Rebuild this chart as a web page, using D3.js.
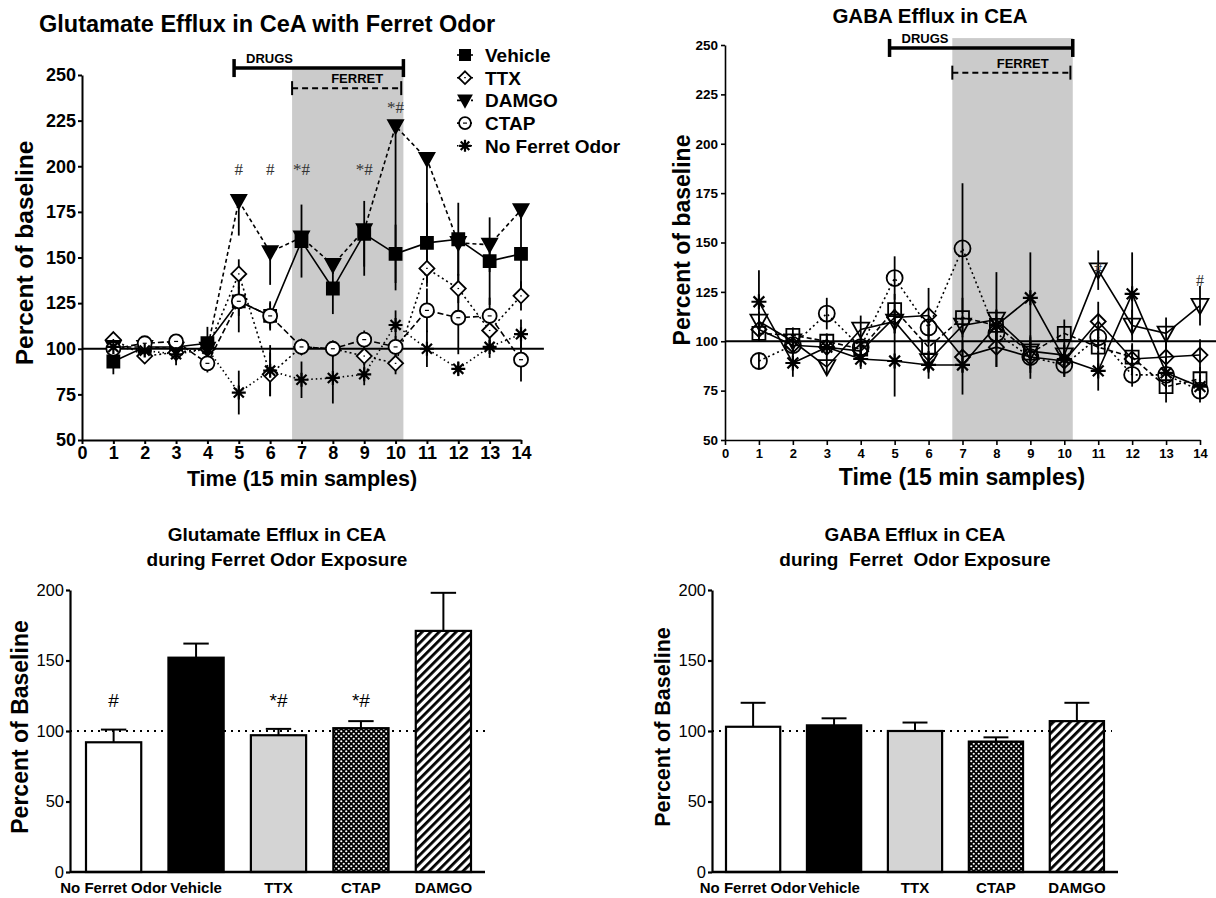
<!DOCTYPE html>
<html>
<head>
<meta charset="utf-8">
<script src="https://cdn.jsdelivr.net/npm/d3@7"></script>
<style>
body { margin: 0; background: #fff; }
svg { display: block; font-family: "Liberation Sans", Arial, sans-serif; }
</style>
</head>
<body>
<svg id="chart" width="1216" height="898"></svg>
<script>
"use strict";

var W = 1216, H = 898;

// ---- data ----
var timePoints = [1, 2, 3, 4, 5, 6, 7, 8, 9, 10, 11, 12, 13, 14];
var timeTicks = [0, 1, 2, 3, 4, 5, 6, 7, 8, 9, 10, 11, 12, 13, 14];
var pctTicks = [50, 75, 100, 125, 150, 175, 200, 225, 250];
var barTicks = [0, 50, 100, 150, 200];
var drugWindow = [4.85, 10.25];
var ferretWindow = [6.7, 10.25];

// glutamate time course
var gluVehicle = [93, 101, 101, 103, 126, 118, 159, 133, 163, 152, 158, 160, 148, 152];
var gluVehicleErr = [7, 3, 3, 9, 17, 7, 20, 14, 18, 16, 22, 20, 24, 20];
var gluTTX = [105, 96, 98, 100, 141, 86, 101, 100, 96, 92, 144, 133, 110, 129];
var gluTTXErr = [3, 4, 4, 4, 8, 12, 3, 3, 5, 6, 10, 8, 8, 8];
var gluDAMGO = [101, 101, 100, 100, 181, 153, 161, 146, 165, 222, 204, 158, 157, 176];
var gluDAMGOErr = [2, 2, 2, 2, 19, 18, 5, 5, 25, 90, 50, 25, 15, 5];
var gluCTAP = [100, 103, 104, 92, 126, 118, 101, 100, 105, 101, 121, 117, 118, 94];
var gluCTAPErr = [4, 3, 3, 5, 8, 8, 3, 3, 5, 6, 12, 20, 10, 12];
var gluNoOdor = [101, 99, 97, 100, 76, 88, 83, 84, 86, 113, 100, 89, 101, 108];
var gluNoOdorErr = [3, 3, 6, 3, 12, 14, 10, 14, 6, 8, 10, 4, 6, 8];
var gluSigTime = [5, 6, 7, 9, 10];
var gluSigLevel = [195, 195, 195, 195, 229];
var gluSigText = ["#", "#", "*#", "*#", "*#"];

// GABA time course
var gabaSquare = [104, 103, 100, 96, 116, 97, 112, 108, 94, 104, 97, 92, 77, 81];
var gabaSquareErr = [4, 4, 4, 4, 8, 10, 10, 8, 8, 7, 10, 6, 8, 6];
var gabaDiamond = [106, 98, 97, 95, 112, 113, 92, 97, 92, 90, 110, 91, 92, 93];
var gabaDiamondErr = [6, 5, 4, 4, 8, 14, 8, 10, 8, 8, 10, 8, 8, 8];
var gabaTriangle = [110, 100, 87, 106, 110, 90, 108, 111, 95, 93, 136, 108, 104, 118];
var gabaTriangleErr = [5, 4, 4, 7, 6, 5, 5, 24, 5, 5, 10, 8, 8, 10];
var gabaCircle = [90, 98, 114, 97, 132, 107, 147, 104, 92, 88, 102, 83, 83, 75];
var gabaCircleErr = [4, 4, 8, 5, 11, 5, 33, 8, 11, 6, 6, 6, 6, 6];
var gabaStar = [120, 89, 97, 91, 90, 88, 88, 108, 122, 91, 85, 124, 84, 77];
var gabaStarErr = [16, 7, 6, 5, 18, 7, 15, 8, 23, 8, 10, 21, 8, 6];
var gabaSigTime = [11, 14];
var gabaSigLevel = [134, 128];
var gabaSigText = ["#", "#"];

// ferret-exposure summary bars
var barGroups = ["No Ferret Odor", "Vehicle", "TTX", "CTAP", "DAMGO"];
var gluBar = [92, 152, 97, 102, 171];
var gluBarErr = [9, 10, 4.5, 5, 27];
var gluBarSig = ["#", "", "*#", "*#", ""];
var gabaBar = [103, 104, 100, 92.5, 107];
var gabaBarErr = [17, 5, 6, 3, 13];

var barFills = ["#fff", "#000", "#d4d4d4", "url(#checks)", "url(#stripes)"];

var svg = d3.select("#chart");

// ---- patterns ----
var defs = svg.append("defs");
var checks = defs.append("pattern")
  .attr("id", "checks")
  .attr("width", 5).attr("height", 5)
  .attr("patternUnits", "userSpaceOnUse");
checks.append("rect").attr("width", 5).attr("height", 5).attr("fill", "#000");
checks.append("circle").attr("cx", 1.25).attr("cy", 1.25).attr("r", 1.1).attr("fill", "#fff");
checks.append("circle").attr("cx", 3.75).attr("cy", 3.75).attr("r", 1.1).attr("fill", "#fff");
var stripes = defs.append("pattern")
  .attr("id", "stripes")
  .attr("width", 6).attr("height", 6)
  .attr("patternUnits", "userSpaceOnUse")
  .attr("patternTransform", "rotate(45)");
stripes.append("rect").attr("width", 6).attr("height", 6).attr("fill", "#fff");
stripes.append("rect").attr("width", 2.8).attr("height", 6).attr("fill", "#000");

// ---- helpers ----
function addText(g, str, x, y, size, weight, anchor) {
  return g.append("text")
    .attr("x", x).attr("y", y)
    .attr("font-size", size)
    .attr("font-weight", weight || "normal")
    .attr("text-anchor", anchor || "start")
    .style("white-space", "pre")
    .text(str);
}

function styleAxis(sel, size, weight, sw) {
  sel.attr("font-family", null).attr("font-size", size).attr("font-weight", weight);
  sel.selectAll("path, line").attr("stroke", "#000").attr("stroke-width", sw);
  sel.selectAll("text").attr("fill", "#000");
}

function markerPath(type, h) {
  var a = h * 0.72;
  if (type === "square") return "M" + (-h) + "," + (-h) + "H" + h + "V" + h + "H" + (-h) + "Z";
  if (type === "diamond") return "M0," + (-h) + "L" + h + ",0L0," + h + "L" + (-h) + ",0Z";
  if (type === "triangle") return "M" + (-h) + "," + (-h * 0.8) + "H" + h + "L0," + h + "Z";
  if (type === "circle") return d3.symbol(d3.symbolCircle, Math.PI * h * h)();
  return "M" + (-h) + ",0H" + h + "M0," + (-h) + "V" + h +
    "M" + (-a) + "," + (-a) + "L" + a + "," + a + "M" + (-a) + "," + a + "L" + a + "," + (-a);
}

function drawSeries(g, x, y, series, openFill) {
  var line = d3.line()
    .x(function(d, i) { return x(timePoints[i]); })
    .y(function(d) { return y(d); });
  series.forEach(function(s) {
    g.append("path")
      .attr("d", line(s.vals))
      .attr("fill", "none")
      .attr("stroke", "#000")
      .attr("stroke-width", 1.6)
      .attr("stroke-dasharray", s.dash);
  });
  series.forEach(function(s) {
    g.selectAll(null).data(s.vals).enter().append("line")
      .attr("x1", function(d, i) { return x(timePoints[i]); })
      .attr("x2", function(d, i) { return x(timePoints[i]); })
      .attr("y1", function(d, i) { return y(s.errDir === "down" ? d : d + s.errs[i]); })
      .attr("y2", function(d, i) { return y(d - s.errs[i]); })
      .attr("stroke", "#000")
      .attr("stroke-width", 1.8);
  });
  series.forEach(function(s) {
    var pts = g.selectAll(null).data(s.vals).enter().append("g")
      .attr("transform", function(d, i) { return "translate(" + x(timePoints[i]) + "," + y(d) + ")"; });
    pts.append("path")
      .attr("d", markerPath(s.marker, s.size))
      .attr("fill", s.filled ? "#000" : openFill)
      .attr("stroke", "#000")
      .attr("stroke-width", s.marker === "star" ? 2.2 : 1.8);
    if (s.inner) {
      pts.append("path").attr("d", s.inner).attr("stroke", "#000").attr("stroke-width", 1.2);
    }
  });
}

function drawWindows(g, x, y, top, drugLevel, ferretLevel) {
  g.append("rect")
    .attr("x", x(ferretWindow[0]))
    .attr("y", y(top))
    .attr("width", x(ferretWindow[1]) - x(ferretWindow[0]))
    .attr("height", y(50) - y(top))
    .attr("fill", "#cbcbcb");
  var dy = y(drugLevel);
  g.append("line")
    .attr("x1", x(drugWindow[0])).attr("x2", x(drugWindow[1]))
    .attr("y1", dy).attr("y2", dy)
    .attr("stroke", "#000").attr("stroke-width", 3.5);
  drugWindow.forEach(function(v) {
    g.append("line")
      .attr("x1", x(v)).attr("x2", x(v))
      .attr("y1", dy - 9).attr("y2", dy + 9)
      .attr("stroke", "#000").attr("stroke-width", 3.5);
  });
  addText(g, "DRUGS", x(drugWindow[0]) + 12, dy - 5, 13, "bold");
  var fy = y(ferretLevel);
  g.append("line")
    .attr("x1", x(ferretWindow[0])).attr("x2", x(ferretWindow[1]) - 2)
    .attr("y1", fy).attr("y2", fy)
    .attr("stroke", "#000").attr("stroke-width", 2)
    .attr("stroke-dasharray", "6,4");
  [ferretWindow[0], ferretWindow[1] - 0.07].forEach(function(v) {
    g.append("line")
      .attr("x1", x(v)).attr("x2", x(v))
      .attr("y1", fy - 7).attr("y2", fy + 7)
      .attr("stroke", "#000").attr("stroke-width", 2);
  });
  addText(g, "FERRET", x((ferretWindow[0] + ferretWindow[1]) / 2 + 0.3), fy - 5, 13, "bold", "middle");
}

// ---- panel A: glutamate time course ----
var gA = svg.append("g");
var xA = d3.scaleLinear().domain([0, 14]).range([82, 521]);
var yA = d3.scaleLinear().domain([50, 250]).range([440, 75]);

drawWindows(gA, xA, yA, 253.8, 253.8, 242.8);

gA.append("line")
  .attr("x1", xA(0)).attr("x2", xA(14.73))
  .attr("y1", yA(100)).attr("y2", yA(100))
  .attr("stroke", "#000").attr("stroke-width", 2);

var gluSeries = [
  { name: "Vehicle", vals: gluVehicle, errs: gluVehicleErr, marker: "square", size: 6, filled: true, dash: null },
  { name: "TTX", vals: gluTTX, errs: gluTTXErr, marker: "diamond", size: 7.5, dash: "2,3", inner: "M-0.8,0H0.8" },
  { name: "DAMGO", vals: gluDAMGO, errs: gluDAMGOErr, marker: "triangle", size: 7.5, filled: true, dash: "4,3", errDir: "down" },
  { name: "CTAP", vals: gluCTAP, errs: gluCTAPErr, marker: "circle", size: 7, dash: "6,3", inner: "M-2,0H2" },
  { name: "No Ferret Odor", vals: gluNoOdor, errs: gluNoOdorErr, marker: "star", size: 7, dash: "1.5,3" }
];
drawSeries(gA, xA, yA, gluSeries, "#fff");

gluSigText.forEach(function(t, i) {
  addText(gA, t, xA(gluSigTime[i]), yA(gluSigLevel[i]), 17, "normal", "middle")
    .attr("font-family", "'Liberation Serif', serif")
    .attr("fill", "#333");
});

var axA = gA.append("g")
  .attr("transform", "translate(0," + yA(50) + ")")
  .call(d3.axisBottom(xA).tickValues(timeTicks).tickSize(4).tickPadding(2).tickSizeOuter(0));
styleAxis(axA, 18, "bold", 2);
var ayA = gA.append("g")
  .attr("transform", "translate(" + xA(0) + ",0)")
  .call(d3.axisLeft(yA).tickValues(pctTicks).tickSize(4).tickPadding(2).tickSizeOuter(0));
styleAxis(ayA, 18, "bold", 2);

addText(gA, "Glutamate Efflux in CeA with Ferret Odor", 39, 32, 23.5, "bold");
addText(gA, "Time (15 min samples)", 302, 486, 21.5, "bold", "middle");
addText(gA, "Percent of baseline", 0, 0, 24.5, "bold", "middle")
  .attr("transform", "translate(33,253) rotate(-90)");

// legend
var legA = gA.append("g").attr("transform", "translate(465,55)");
gluSeries.forEach(function(s, i) {
  var row = legA.append("g").attr("transform", "translate(0," + (i * 22.7) + ")");
  row.append("line")
    .attr("x1", -8).attr("x2", 8)
    .attr("stroke", "#000").attr("stroke-width", 1.6)
    .attr("stroke-dasharray", s.dash);
  row.append("path")
    .attr("d", markerPath(s.marker, s.size * 0.85))
    .attr("fill", s.filled ? "#000" : "#fff")
    .attr("stroke", "#000").attr("stroke-width", s.marker === "star" ? 2.2 : 1.8);
  if (s.inner) row.append("path").attr("d", s.inner).attr("stroke", "#000").attr("stroke-width", 1.2);
  addText(row, s.name, 20, 7, 19, "bold");
});

// ---- panel B: GABA time course ----
var gB = svg.append("g");
var xB = d3.scaleLinear().domain([0, 14]).range([725, 1200]);
var yB = d3.scaleLinear().domain([50, 250]).range([440, 45]);

drawWindows(gB, xB, yB, 253.5, 248.5, 236);

gB.append("line")
  .attr("x1", xB(0)).attr("x2", W)
  .attr("y1", yB(100)).attr("y2", yB(100))
  .attr("stroke", "#000").attr("stroke-width", 2);

var gabaSeries = [
  { vals: gabaStar, errs: gabaStarErr, marker: "star", size: 7.5, dash: null },
  { vals: gabaDiamond, errs: gabaDiamondErr, marker: "diamond", size: 7.5, dash: null },
  { vals: gabaTriangle, errs: gabaTriangleErr, marker: "triangle", size: 8.5, dash: null },
  { vals: gabaSquare, errs: gabaSquareErr, marker: "square", size: 6.5, dash: "5,3" },
  { vals: gabaCircle, errs: gabaCircleErr, marker: "circle", size: 8, dash: "2,3" }
];
drawSeries(gB, xB, yB, gabaSeries, "none");

gabaSigText.forEach(function(t, i) {
  addText(gB, t, xB(gabaSigTime[i]), yB(gabaSigLevel[i]), 16, "normal", "middle")
    .attr("font-family", "'Liberation Serif', serif")
    .attr("fill", "#333");
});

var axB = gB.append("g")
  .attr("transform", "translate(0," + yB(50) + ")")
  .call(d3.axisBottom(xB).tickValues(timeTicks).tickSize(5).tickPadding(4).tickSizeOuter(0));
styleAxis(axB, 13, "bold", 1.6);
var ayB = gB.append("g")
  .attr("transform", "translate(" + xB(0) + ",0)")
  .call(d3.axisLeft(yB).tickValues(pctTicks).tickSize(4).tickPadding(3).tickSizeOuter(0));
styleAxis(ayB, 13.5, "bold", 1.6);

addText(gB, "GABA Efflux in CEA", 930, 23, 20.5, "bold", "middle");
addText(gB, "Time (15 min samples)", 962, 485, 23, "bold", "middle");
addText(gB, "Percent of baseline", 0, 0, 23, "bold", "middle")
  .attr("transform", "translate(690,240) rotate(-90)");

// ---- bar panels ----
function barPanel(axisX, range, vals, errs, sig, titles, lineEnd) {
  var g = svg.append("g");
  var x = d3.scaleBand().domain(barGroups).range(range).paddingInner(0.33).paddingOuter(0);
  var y = d3.scaleLinear().domain([0, 200]).range([872, 590]);

  g.append("line")
    .attr("x1", axisX).attr("x2", lineEnd)
    .attr("y1", y(100)).attr("y2", y(100))
    .attr("stroke", "#000").attr("stroke-width", 2)
    .attr("stroke-dasharray", "2,5");

  var cx = function(d, i) { return x(barGroups[i]) + x.bandwidth() / 2; };
  g.selectAll(null).data(vals).enter().append("line")
    .attr("x1", cx).attr("x2", cx)
    .attr("y1", function(d) { return y(d); })
    .attr("y2", function(d, i) { return y(d + errs[i]); })
    .attr("stroke", "#000").attr("stroke-width", 2);
  g.selectAll(null).data(vals).enter().append("line")
    .attr("x1", function(d, i) { return cx(d, i) - x.bandwidth() * 0.23; })
    .attr("x2", function(d, i) { return cx(d, i) + x.bandwidth() * 0.23; })
    .attr("y1", function(d, i) { return y(d + errs[i]); })
    .attr("y2", function(d, i) { return y(d + errs[i]); })
    .attr("stroke", "#000").attr("stroke-width", 2);

  g.selectAll(null).data(vals).enter().append("rect")
    .attr("x", function(d, i) { return x(barGroups[i]); })
    .attr("y", function(d) { return y(d); })
    .attr("width", x.bandwidth())
    .attr("height", function(d) { return y(0) - y(d); })
    .attr("fill", function(d, i) { return barFills[i]; })
    .attr("stroke", "#000")
    .attr("stroke-width", 2.2);

  if (sig) {
    sig.forEach(function(t, i) {
      if (t) addText(g, t, cx(0, i), y(117), 19, "normal", "middle");
    });
  }

  g.append("line")
    .attr("x1", axisX).attr("x2", range[1] + 14)
    .attr("y1", y(0)).attr("y2", y(0))
    .attr("stroke", "#000").attr("stroke-width", 2.6);

  var ay = g.append("g")
    .attr("transform", "translate(" + axisX + ",0)")
    .call(d3.axisLeft(y).tickValues(barTicks).tickSize(4).tickPadding(2).tickSizeOuter(0));
  styleAxis(ay, 16.5, "normal", 2.2);

  var ax = g.append("g")
    .attr("transform", "translate(0," + y(0) + ")")
    .call(d3.axisBottom(x).tickSize(0).tickPadding(10));
  ax.select(".domain").remove();
  styleAxis(ax, 15, "bold", 0);
  ax.selectAll("text").style("white-space", "pre");

  addText(g, titles[0], titles[2], 541, 19, "bold", "middle");
  addText(g, titles[1], titles[2], 566, 19, "bold", "middle");
  return g;
}

var gC = barPanel(70, [86, 471], gluBar, gluBarErr, gluBarSig,
  ["Glutamate Efflux in CEA", "during Ferret Odor Exposure", 277], 490);
addText(gC, "Percent of Baseline", 0, 0, 23, "bold", "middle")
  .attr("transform", "translate(28,727) rotate(-90)");

var gD = barPanel(712, [726, 1104], gabaBar, gabaBarErr, null,
  ["GABA Efflux in CEA", "during  Ferret  Odor Exposure", 915], 1112);
addText(gD, "Percent of Baseline", 0, 0, 21.5, "bold", "middle")
  .attr("transform", "translate(670,727) rotate(-90)");
</script>
</body>
</html>
